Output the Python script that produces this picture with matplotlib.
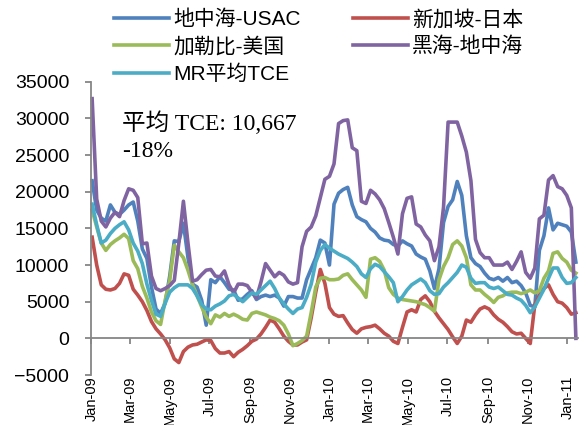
import pandas as pd
import matplotlib
matplotlib.use('Agg')
import matplotlib.pyplot as plt
import matplotlib.dates as mdates
from matplotlib.ticker import MultipleLocator

plt.rcParams['font.family'] = ['Liberation Sans', 'Noto Sans CJK SC']

# weekly TCE, USD/day
dates = pd.date_range('2009-01-02', periods=107, freq='7D')

med_usac = [21500, 17500, 16400, 16000, 18200, 17200, 16900, 17500, 18200, 18600,
            16000, 12200, 10900, 7000, 4000, 3400, 4800, 8500, 13300, 13200,
            15700, 11000, 7400, 7000, 5200, 1800, 8000, 7600, 8400, 7600,
            6700, 6600, 5200, 5400, 6000, 6500, 5300, 5700, 5900, 5700,
            5900, 5500, 4400, 5700, 5700, 5500, 5500, 8000, 9500, 11000,
            13400, 13000, 10000, 18300, 19800, 20300, 20600, 18200, 16600, 16200,
            15900, 15000, 14500, 13700, 13400, 13300, 12800, 12600, 13300, 12900,
            12600, 11500, 11100, 10800, 9200, 6800, 9500, 15800, 18000, 18900,
            21400, 19500, 14000, 11000, 10200, 9800, 8900, 8200, 8000, 8300,
            7800, 8300, 7600, 7800, 7200, 6200, 4500, 4300, 12000, 14000,
            17800, 14800, 15700, 15500, 15300, 14500, 10400]

sing_japan = [13800, 10000, 7300, 6700, 6600, 6800, 7500, 8800, 8600, 6700,
              5900, 5000, 3800, 2300, 1300, 600, -200, -1300, -2800, -3300,
              -1800, -1200, -900, -800, -500, -200, -300, -1400, -2000, -2000,
              -1800, -2500, -1900, -1500, -1000, -400, -100, 600, 1500, 2500,
              2200, 1300, 300, -400, -900, -900, -500, -200, 2800, 6300,
              9400, 7500, 4200, 3300, 3000, 3100, 2100, 1200, 700, 1300,
              1500, 1600, 1800, 1300, 700, 300, -400, -700, 1500, 3600,
              3900, 3600, 5300, 5800, 5000, 3700, 2800, 2000, 1200, 200,
              -700, 300, 2500, 2200, 3200, 4000, 4300, 4000, 3200, 2600,
              2200, 1600, 900, 600, 700, 0, -700, 4600, 5900, 6800,
              7300, 6000, 5000, 4800, 4200, 3300, 3500]

carib_us = [17500, 15200, 13000, 12000, 12800, 13300, 13700, 14200, 13600, 10600,
            9500, 7100, 5500, 3600, 2400, 1900, 5200, 7900, 12700, 11800,
            11000, 9300, 7300, 5800, 4300, 2900, 2000, 3200, 2900, 3400,
            3000, 3300, 3000, 2600, 2500, 3400, 3600, 3400, 3200, 2900,
            2700, 2400, 1800, 600, -1000, -700, -300, 300, 3500, 7000,
            8200, 8300, 8000, 8000, 8100, 8600, 8800, 8000, 7300, 6600,
            5600, 10800, 11000, 10500, 9300, 6900, 6000, 5500, 5300, 5200,
            5100, 5000, 4800, 4600, 4200, 3700, 8000, 9800, 11000, 12800,
            13300, 12600, 11000, 7300, 6600, 6600, 6000, 5500, 4900, 5600,
            5800, 6200, 6300, 6300, 6100, 6300, 6600, 6200, 6500, 8200,
            9200, 11600, 11800, 10900, 10400, 9300, 8900]

black_med = [32700, 19000, 16000, 15200, 16400, 17200, 16600, 18800, 20400, 20200,
             19200, 12900, 13000, 8500, 6800, 6500, 6800, 7200, 7900, 13000,
             18700, 13000, 7800, 8000, 8700, 9300, 9400, 8500, 8400, 9200,
             7300, 6200, 7400, 7400, 7200, 6300, 5500, 7700, 10200, 9300,
             8400, 9000, 8600, 7700, 7400, 7600, 12500, 14600, 15200, 16700,
             19200, 21700, 22100, 23800, 29300, 29700, 29800, 26000, 25600, 18700,
             18400, 20200, 19700, 18900, 17700, 15800, 13800, 11500, 17000, 19100,
             19300, 15600, 15200, 14100, 13300, 10600, 12500, 17900, 29500, 29500,
             29500, 27600, 25400, 21500, 13500, 11700, 11000, 11000, 10000, 10000,
             10000, 10400, 9400, 10500, 11800, 9000, 8200, 9600, 16300, 16800,
             21600, 22200, 20700, 20400, 19500, 17800, 0]

mr_tce = [18300, 15500, 13000, 13400, 14300, 15000, 15500, 15900, 14800, 13000,
          11900, 10200, 7400, 5200, 3300, 3000, 4800, 6300, 6900, 7300,
          7300, 7300, 6800, 5800, 4600, 4000, 3900, 4400, 4700, 5100,
          5800, 6000, 5500, 5000, 5600, 6200, 6000, 6600, 7200, 7800,
          6800, 5500, 4700, 4000, 3400, 4000, 4200, 5600, 7400, 10400,
          12000, 12800, 12300, 11900, 11500, 11200, 10900, 10400, 9800, 8800,
          8300, 9500, 10100, 9800, 9100, 8400, 7600, 5000, 5700, 6600,
          7300, 7700, 8100, 7600, 6500, 6000, 6100, 7000, 7600, 8300,
          9000, 10000, 9700, 8200, 7500, 7600, 7600, 7000, 6800, 7000,
          6500, 6000, 5900, 5500, 5200, 4500, 3500, 4300, 5500, 6700,
          8200, 9600, 9600, 8300, 7500, 7600, 8300]

names = ['地中海-USAC', '新加坡-日本', '加勒比-美国', '黑海-地中海', 'MR平均TCE']
colors = ['#4F81BD', '#C0504D', '#9BBB59', '#8064A2', '#4BACC6']
series = [med_usac, sing_japan, carib_us, black_med, mr_tce]

fig = plt.figure(figsize=(5.79, 4.25), dpi=100)
ax = fig.add_axes([0.158, 0.1176, 0.840, 0.690])

lines = []
for vals, name, col in zip(series, names, colors):
    ln, = ax.plot(dates, vals, color=col, lw=2.6, label=name, clip_on=False)
    lines.append(ln)

ax.set_ylim(-5000, 35000)
ax.yaxis.set_major_locator(MultipleLocator(5000))
ax.set_xlim(pd.Timestamp('2009-01-01'), pd.Timestamp('2011-01-17'))
ax.xaxis.set_major_locator(mdates.MonthLocator(bymonth=[1, 3, 5, 7, 9, 11]))
ax.xaxis.set_major_formatter(mdates.DateFormatter('%b-%y'))

axis_gray = '#868686'
for s in ['top', 'right']:
    ax.spines[s].set_visible(False)
ax.spines['left'].set_color(axis_gray)
ax.spines['left'].set_linewidth(1.3)
ax.spines['bottom'].set_position(('data', 0))
ax.spines['bottom'].set_color(axis_gray)
ax.spines['bottom'].set_linewidth(1.3)

ax.tick_params(axis='y', direction='out', length=4, width=1.3, color=axis_gray,
               labelsize=14, pad=12)
# x labels sit below the plot, tick marks stay on the zero line
ax.tick_params(axis='x', direction='out', length=4, width=1.3, color=axis_gray,
               labelsize=10.5, labelrotation=90, pad=23)

ax.text(0.062, 0.90, '平均 TCE: 10,667\n-18%', transform=ax.transAxes,
        fontsize=17, va='top', ha='left', linespacing=1.4,
        family=['Liberation Serif', 'Noto Sans CJK SC'])

# legend fills column-wise: left column blue/green/cyan, right red/purple
order = [0, 2, 4, 1, 3]
fig.legend([lines[i] for i in order], [names[i] for i in order],
           ncol=2, loc='upper left', bbox_to_anchor=(0.18, 1.0),
           frameon=False, fontsize=15, handlelength=2.65, handletextpad=0.2,
           columnspacing=2.5, labelspacing=0.37, borderpad=0.45, borderaxespad=0)

plt.savefig('out.png', dpi=100)
